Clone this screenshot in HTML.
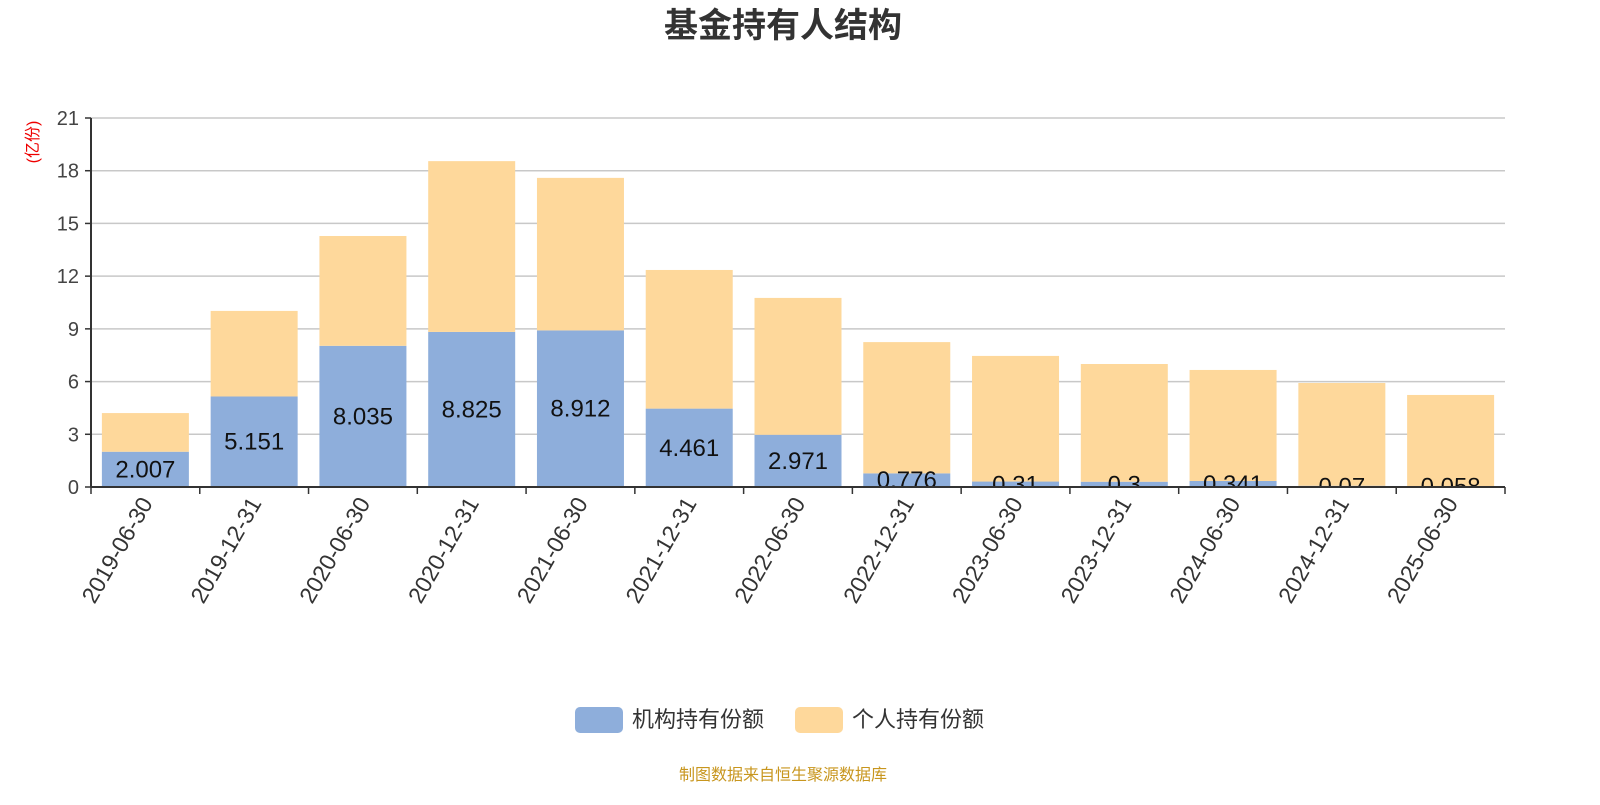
<!DOCTYPE html>
<html><head><meta charset="utf-8"><style>
body{margin:0;background:#fff;width:1600px;height:800px;overflow:hidden;font-family:"Liberation Sans","Noto Sans CJK SC",sans-serif}
</style></head><body>
<svg id="c" width="1600" height="800" xmlns="http://www.w3.org/2000/svg">
<defs><clipPath id="plot"><rect x="91" y="100" width="1414" height="387"/></clipPath></defs>
<text x="783" y="37" text-anchor="middle" font-size="34" font-weight="bold" fill="#333">基金持有人结构</text>
<text transform="translate(38,142) rotate(-90)" text-anchor="middle" font-size="16" fill="#e00">(亿份)</text>
<g id="grid"></g><g id="bars" clip-path="url(#plot)"></g><g id="axes"></g>
<g>
<rect x="575" y="707" width="48" height="26" rx="5" fill="#8eaedb"/>
<text x="632" y="727" font-size="22" fill="#333">机构持有份额</text>
<rect x="795" y="707" width="48" height="26" rx="5" fill="#fed89b"/>
<text x="852" y="727" font-size="22" fill="#333">个人持有份额</text>
</g>
<text x="783" y="780" text-anchor="middle" font-size="16" fill="#c8961e">制图数据来自恒生聚源数据库</text>
</svg>
<script>
const categories=["2019-06-30","2019-12-31","2020-06-30","2020-12-31","2021-06-30","2021-12-31","2022-06-30","2022-12-31","2023-06-30","2023-12-31","2024-06-30","2024-12-31","2025-06-30"];
const institution=[2.007,5.151,8.035,8.825,8.912,4.461,2.971,0.776,0.31,0.3,0.341,0.07,0.058];
const individual=[2.2,4.87,6.25,9.72,8.68,7.89,7.79,7.47,7.15,6.7,6.32,5.85,5.18];
const yTicks=[0,3,6,9,12,15,18,21];
const NS="http://www.w3.org/2000/svg";
const x0=91,x1=1505,y0=487,y1=118,yMax=21;
const bw=(x1-x0)/categories.length;
const y=v=>y0-(v/yMax)*(y0-y1);
function el(t,a,p){const e=document.createElementNS(NS,t);for(const k in a)e.setAttribute(k,a[k]);p.appendChild(e);return e;}
const grid=document.getElementById('grid'),bars=document.getElementById('bars'),axes=document.getElementById('axes');
yTicks.forEach(t=>{
 const l=el('line',{x1:x0,x2:x1,y1:y(t),y2:y(t),stroke:t?'#c8c8c8':'#333','stroke-width':t?1.5:2},grid);
 
 
 const k=el('line',{x1:x0-6,x2:x0,y1:y(t),y2:y(t),stroke:'#333','stroke-width':1.5},axes);
 
 
 const tx=el('text',{x:x0-12,y:y(t)+7,'text-anchor':'end','font-size':20,fill:'#444'},axes);
 tx.textContent=t;
 
 
});
const ya=el('line',{x1:x0,x2:x0,y1:y1,y2:y0,stroke:'#333','stroke-width':2},axes);


const xa=el('line',{x1:x0,x2:x1,y1:y0,y2:y0,stroke:'#333','stroke-width':2},axes);


for(let i=0;i<=categories.length;i++){
 const t=el('line',{x1:x0+i*bw,x2:x0+i*bw,y1:y0,y2:y0+7,stroke:'#333','stroke-width':1.5},axes);
 
 
}
categories.forEach((c,i)=>{
 const cx=x0+bw*(i+0.5),w=87,a=institution[i],b=individual[i];
 const r1=el('rect',{x:cx-w/2,y:y(a),width:w,height:y0-y(a),fill:'#8eaedb'},bars);
 
 
 const r2=el('rect',{x:cx-w/2,y:y(a+b),width:w,height:y(a)-y(a+b),fill:'#fed89b'},bars);
 
 
 const lb=el('text',{x:cx,y:(y(a)+y0)/2+8,'text-anchor':'middle','font-size':24,fill:'#111'},bars);
 lb.textContent=a;
 
 
 const xl=el('text',{transform:`translate(${cx+8},${y0+16}) rotate(-60)`,'text-anchor':'end','font-size':23,fill:'#333'},axes);
 xl.textContent=c;
 
 
});
</script>
</body></html>
